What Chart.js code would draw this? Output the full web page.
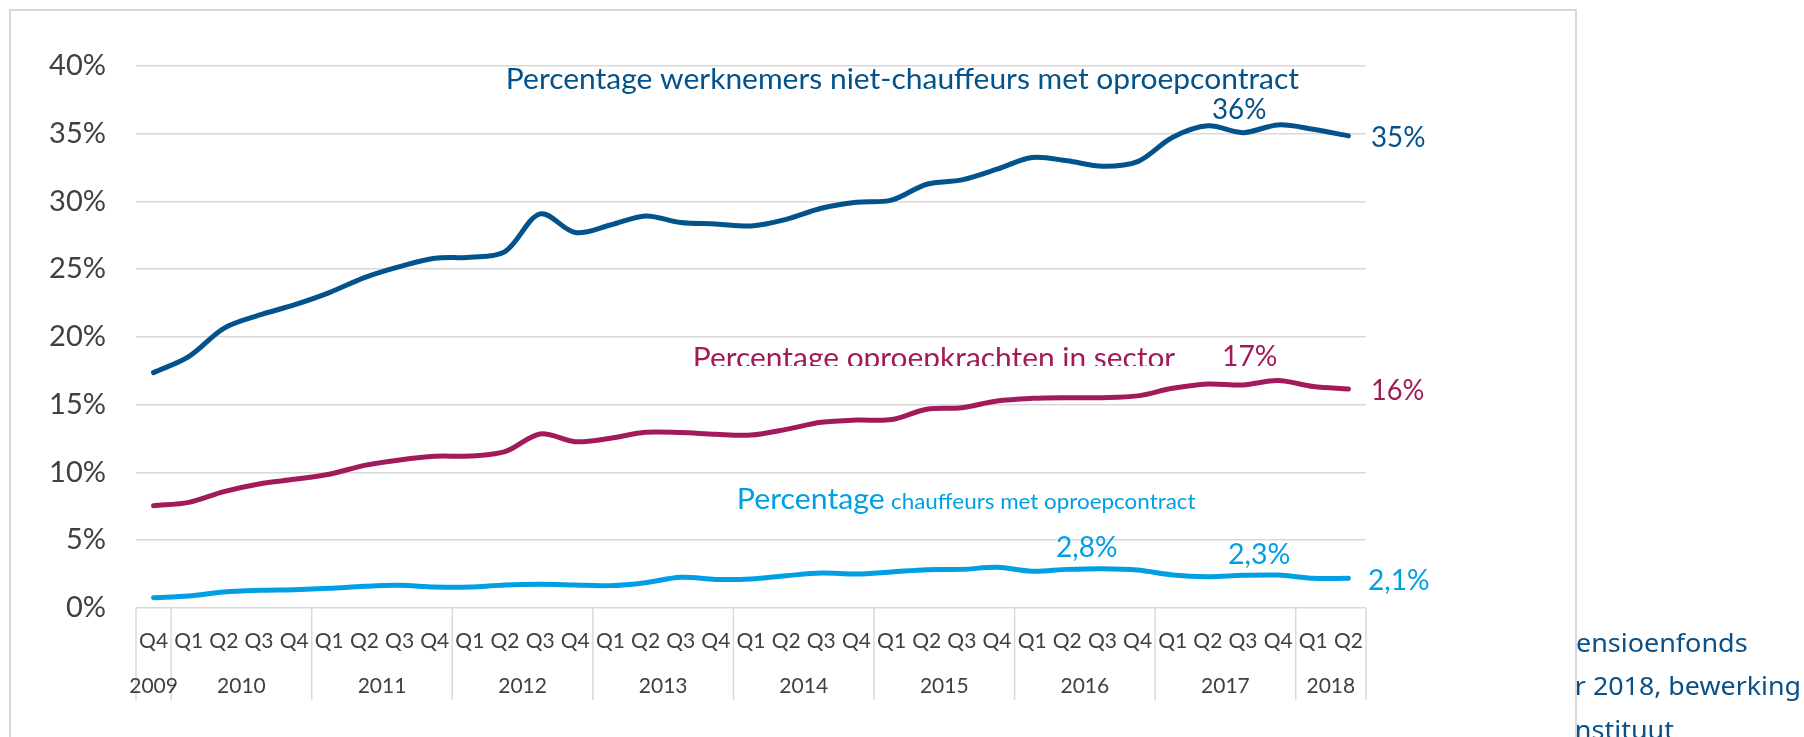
<!DOCTYPE html>
<html>
<head>
<meta charset="utf-8">
<script src="https://cdn.jsdelivr.net/npm/chart.js@4.4.1/dist/chart.umd.min.js"></script>
<style>
html,body{margin:0;padding:0;background:#fff;overflow:hidden}
#wrap{width:1804px;height:737px;position:relative}
</style>
</head>
<body>
<div id="wrap"><canvas id="c" width="1804" height="737"></canvas></div>
<script>
// ---- DATA ----
const quarters = ['Q4',
  'Q1','Q2','Q3','Q4', 'Q1','Q2','Q3','Q4', 'Q1','Q2','Q3','Q4', 'Q1','Q2','Q3','Q4',
  'Q1','Q2','Q3','Q4', 'Q1','Q2','Q3','Q4', 'Q1','Q2','Q3','Q4', 'Q1','Q2','Q3','Q4',
  'Q1','Q2'];
const yearLabels = ['2009','2010','2011','2012','2013','2014','2015','2016','2017','2018'];
const yearSpans  = [1,4,4,4,4,4,4,4,4,2];

const nietChauffeurs = [17.36, 18.54, 20.63, 21.6, 22.36, 23.27, 24.38, 25.19, 25.8, 25.88,
  26.3, 29.08, 27.7, 28.26, 28.93, 28.44, 28.34, 28.19, 28.68, 29.5, 29.94, 30.1, 31.27,
  31.59, 32.38, 33.24, 33.0, 32.6, 32.94, 34.74, 35.58, 35.08, 35.65, 35.33, 34.84];
const oproepkrachten = [7.53, 7.78, 8.57, 9.14, 9.48, 9.85, 10.51, 10.91, 11.18, 11.2,
  11.52, 12.83, 12.26, 12.51, 12.95, 12.93, 12.8, 12.75, 13.17, 13.69, 13.86, 13.89, 14.65,
  14.77, 15.27, 15.46, 15.51, 15.51, 15.64, 16.2, 16.52, 16.45, 16.77, 16.33, 16.15];
const chauffeurs = [0.74, 0.86, 1.16, 1.28, 1.33, 1.43, 1.58, 1.65, 1.53, 1.53,
  1.68, 1.73, 1.68, 1.63, 1.85, 2.24, 2.09, 2.12, 2.36, 2.56, 2.49, 2.64, 2.81,
  2.83, 2.98, 2.69, 2.83, 2.88, 2.78, 2.41, 2.29, 2.39, 2.41, 2.17, 2.17];

const yMin = 0, yMax = 40, yStep = 5;

const seriesNames = ['Percentage werknemers niet-chauffeurs met oproepcontract',
                     'Percentage oproepkrachten in sector',
                     'Percentage', 'chauffeurs met oproepcontract'];
const valueLabels = ['36%', '35%', '17%', '16%', '2,8%', '2,3%', '2,1%'];
const sourceLines = ['ensioenfonds', 'r 2018, bewerking', 'nstituut'];

// ---- STYLE ----
const C_BLUE = '#02528b';
const C_MAG = '#a31a5c';
const C_CYAN = '#009fe3';
const C_TXT = '#404040';
const C_GRID = '#d9d9d9';

function fitText(ctx, text, left, baseline, right, size, family, color) {
  ctx.save();
  ctx.font = size + 'px ' + family;
  ctx.textBaseline = 'alphabetic';
  ctx.textAlign = 'left';
  const m = ctx.measureText(text);
  const w = m.actualBoundingBoxRight + m.actualBoundingBoxLeft;
  const s = (right - left) / w;
  ctx.translate(left + m.actualBoundingBoxLeft * s, baseline);
  ctx.scale(s, 1);
  ctx.fillStyle = color;
  ctx.fillText(text, 0, 0);
  ctx.restore();
}

const decor = {
  id: 'decor',
  beforeDraw(chart) {
    const ctx = chart.ctx;
    ctx.save();
    ctx.fillStyle = '#fff';
    ctx.fillRect(0, 0, chart.width, chart.height);
    ctx.strokeStyle = C_GRID;
    ctx.lineWidth = 2;
    ctx.strokeRect(10, 10, 1566, 800);
    ctx.restore();
  },
  afterDraw(chart) {
    const ctx = chart.ctx;
    const xs = chart.scales.x;
    const area = chart.chartArea;
    const half = (xs.getPixelForValue(1) - xs.getPixelForValue(0)) / 2;
    // year separators + labels
    ctx.save();
    ctx.strokeStyle = C_GRID;
    ctx.lineWidth = 1.5;
    let idx = 0;
    const bounds = [xs.getPixelForValue(0) - half];
    yearSpans.forEach(n => { idx += n; bounds.push(xs.getPixelForValue(idx - 1) + half); });
    bounds.forEach(b => {
      ctx.beginPath();
      ctx.moveTo(b, area.bottom);
      ctx.lineTo(b, 700);
      ctx.stroke();
    });
    ctx.fillStyle = C_TXT;
    ctx.font = '21px Lato';
    ctx.textAlign = 'center';
    ctx.textBaseline = 'alphabetic';
    yearLabels.forEach((y, i) => {
      ctx.fillText(y, (bounds[i] + bounds[i + 1]) / 2, 693);
    });
    ctx.restore();

    // series names
    fitText(ctx, seriesNames[0], 508, 89, 1299, 28, 'Lato', C_BLUE);
    ctx.save();
    ctx.beginPath();
    ctx.rect(0, 0, 1804, 366);
    ctx.clip();
    fitText(ctx, seriesNames[1], 695, 367.5, 1175, 28, 'Lato', C_MAG);
    ctx.restore();
    fitText(ctx, seriesNames[2], 739, 509.3, 884, 28, 'Lato', C_CYAN);
    fitText(ctx, seriesNames[3], 891, 509.3, 1196, 21, 'Lato', C_CYAN);

    // value labels
    fitText(ctx, valueLabels[0], 1213, 119.3, 1266, 28, 'Lato', C_BLUE);
    fitText(ctx, valueLabels[1], 1372, 147, 1425, 28, 'Lato', C_BLUE);
    fitText(ctx, valueLabels[2], 1224, 366, 1277, 28, 'Lato', C_MAG);
    fitText(ctx, valueLabels[3], 1373, 400, 1424, 28, 'Lato', C_MAG);
    fitText(ctx, valueLabels[4], 1057, 557.3, 1117, 28, 'Lato', C_CYAN);
    fitText(ctx, valueLabels[5], 1229, 564, 1290, 28, 'Lato', C_CYAN);
    fitText(ctx, valueLabels[6], 1369, 590, 1429, 28, 'Lato', C_CYAN);

    // cut-off source text outside the frame
    ctx.save();
    ctx.beginPath();
    ctx.rect(1577, 0, 400, 737);
    ctx.clip();
    fitText(ctx, sourceLines[0], 1577, 651.7, 1746.5, 25, '"Noto Sans"', '#0a4f86');
    fitText(ctx, sourceLines[1], 1577, 695, 1799.5, 25, '"Noto Sans"', '#0a4f86');
    fitText(ctx, sourceLines[2], 1577, 738.5, 1674, 25, '"Noto Sans"', '#0a4f86');
    ctx.restore();
  }
};

const lineDs = (data, color) => ({
  data, borderColor: color, backgroundColor: color, borderWidth: 5,
  pointRadius: 0, pointHoverRadius: 0, tension: 0.33, fill: false,
  borderCapStyle: 'round', borderJoinStyle: 'round'
});

new Chart(document.getElementById('c'), {
  type: 'line',
  data: {
    labels: quarters,
    datasets: [lineDs(nietChauffeurs, C_BLUE), lineDs(oproepkrachten, C_MAG), lineDs(chauffeurs, C_CYAN)]
  },
  options: {
    responsive: false,
    devicePixelRatio: 1,
    animation: false,
    layout: { padding: { left: 0, top: 66, right: 438, bottom: 0 } },
    plugins: { legend: { display: false }, tooltip: { enabled: false } },
    scales: {
      x: {
        type: 'category',
        offset: true,
        grid: { display: false, drawTicks: false },
        border: { display: false },
        ticks: {
          autoSkip: false, maxRotation: 0, minRotation: 0, padding: 21,
          color: C_TXT, font: { family: 'Lato', size: 21 }
        },
        afterFit(s) { s.height = 129.3; }
      },
      y: {
        min: yMin, max: yMax,
        grid: { color: C_GRID, lineWidth: 1.5, drawTicks: false },
        border: { display: false },
        ticks: {
          stepSize: yStep, padding: 30, color: C_TXT,
          font: { family: 'Lato', size: 29 },
          callback: v => v + '%'
        },
        afterFit(s) { s.width = 136; }
      }
    }
  },
  plugins: [decor]
});
</script>
</body>
</html>
